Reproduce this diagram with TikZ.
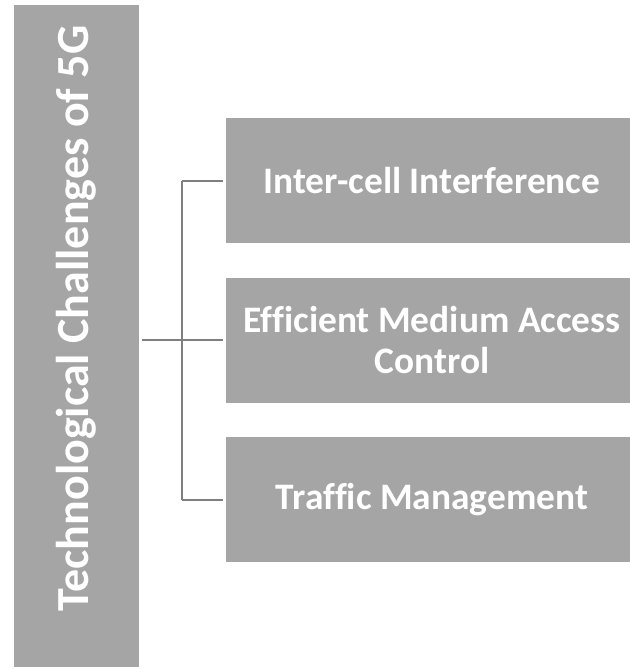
\documentclass[tikz,border=0pt]{standalone}
\usepackage{fontspec}
\setmainfont{Carlito}[Ligatures=NoCommon]
\usepackage{tikz}
\usetikzlibrary{calc}

\definecolor{boxgray}{HTML}{A5A5A5}
\definecolor{linegray}{HTML}{7F7F7F}

\begin{document}
\begin{tikzpicture}[x=0.5pt,y=-0.5pt,
    box/.style={fill=boxgray,inner sep=0pt,text=white,align=center,
      font=\bfseries\fontsize{18.7}{20.7}\selectfont},
    item/.style={box,minimum width=202pt,minimum height=62.5pt},
    link/.style={draw=linegray,line width=1pt}]
  \useasboundingbox (0,0) rectangle (630,669);

  %% Main box, text runs bottom to top
  \node[box,rotate=90,minimum width=331pt,minimum height=62.5pt,
        font=\bfseries\fontsize{23}{27}\selectfont] (main) at (76.5,336)
    {\hspace*{17.5pt}Technological Challenges of 5G};

  %% The three challenges
  \node[item] (C1) at (428,180.5) {\hspace*{4pt}Inter-cell Interference};
  \node[item] (C2) at (428,340)
    {\hspace*{4pt}Efficient Medium Access\\\hspace*{4pt}Control};
  \node[item] (C3) at (428,499.5) {\hspace*{4pt}Traffic Management};

  %% Bracket joining them
  \coordinate (bus) at (182,340);
  \draw[link,shorten <=1.5pt] (main.south |- bus) -- (bus);
  \draw[link] (bus |- C1.west) -- (bus |- C3.west);
  \foreach \c in {C1,C2,C3}
  {
    \draw[link,shorten >=1.5pt] (bus |- \c.west) -- (\c.west);
  }
\end{tikzpicture}
\end{document}
